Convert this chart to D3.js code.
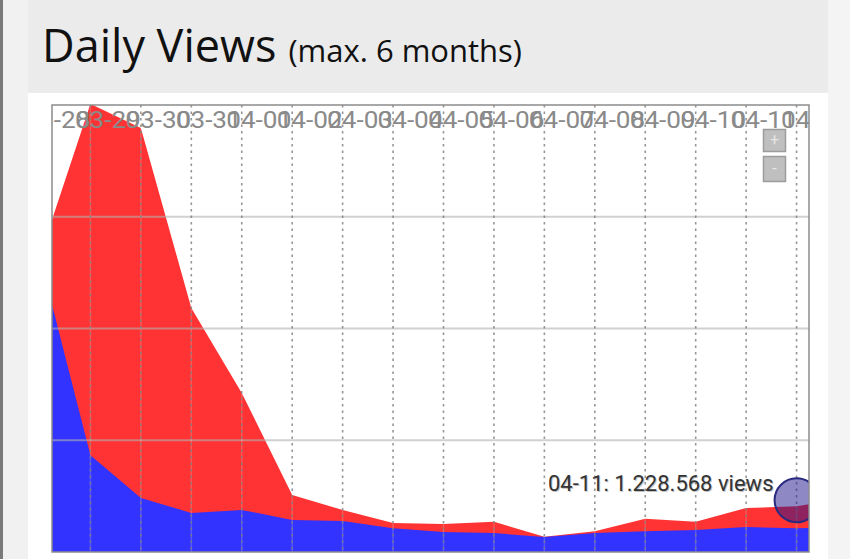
<!DOCTYPE html>
<html><head><meta charset="utf-8">
<script src="https://cdn.jsdelivr.net/npm/d3@7"></script>
<style>
html,body{margin:0;padding:0;background:#f1f1f1;}
svg{display:block;}
</style></head>
<body>
<svg id="chart" width="850" height="559"></svg>
<script>
// ---- data ----
const dates = ["03-27","03-28","03-29","03-30","03-31","04-01","04-02","04-03","04-04","04-05","04-06","04-07","04-08","04-09","04-10","04-11","04-12"];
const blueViews = [7900000, 2600000, 1450000, 1050000, 1130000, 860000, 830000, 640000, 540000, 510000, 400000, 510000, 560000, 590000, 670000, 640000, 650000];
const redViews  = [50000, 9430000, 9930000, 5500000, 3140000, 670000, 300000, 140000, 210000, 300000, 10000, 50000, 330000, 220000, 510000, 588568, 800000];
const yTicks = [3000000, 6000000, 9000000];
const hoverIndex = 15;
const hoverText = "04-11: 1.228.568 views";
const title = "Daily Views";
const subtitle = "(max. 6 months)";

const svg = d3.select("#chart");
// page background pieces
svg.append("rect").attr("x",0).attr("y",0).attr("width",850).attr("height",559).attr("fill","#f1f1f1");
svg.append("rect").attr("x",0).attr("y",0).attr("width",3).attr("height",559).attr("fill","#7a7a7a");
svg.append("rect").attr("x",28).attr("y",0).attr("width",800).attr("height",559).attr("fill","#ffffff");
svg.append("rect").attr("x",28).attr("y",0).attr("width",800).attr("height",93).attr("fill","#ebebeb");
svg.append("rect").attr("x",828).attr("y",0).attr("width",22).attr("height",559).attr("fill","#f4f4f4");

// title
const t = svg.append("text").attr("x",42).attr("y",62).attr("fill","#111")
  .style("font-family","'Open Sans', sans-serif");
t.append("tspan").attr("font-size",45).text(title);
t.append("tspan").attr("font-size",31).attr("dx",12).text(subtitle);

// plot
const P = {x:52, y:105, w:757, h:447};
const g = svg.append("g").attr("transform",`translate(${P.x},${P.y})`);
g.append("defs").append("clipPath").attr("id","clip")
  .append("rect").attr("x",0).attr("y",0).attr("width",P.w).attr("height",P.h);

const x = d3.scaleLinear().domain([0, dates.length-1]).range([-12, 795]);
const y = d3.scaleLinear().domain([0, 12000000]).range([P.h, 0]);

const rows = dates.map((d,i)=>({date:d, blue:blueViews[i], red:redViews[i]}));
const stack = d3.stack().keys(["blue","red"])(rows);
const colors = {blue:"#3333ff", red:"#ff3333"};

const plot = g.append("g").attr("clip-path","url(#clip)");
plot.append("rect").attr("width",P.w).attr("height",P.h).attr("fill","#fff");

const area = d3.area().x((d,i)=>x(i)).y0(d=>y(d[0])).y1(d=>y(d[1]));
plot.selectAll("path.area").data(stack.slice().reverse()).join("path")
  .attr("class","area")
  .attr("fill",d=>colors[d.key])
  .attr("d",d=>{
    if(d.key==="red") return d3.area().x((p,i)=>x(i)).y0(y(0)).y1(p=>y(p[1]))(d);
    return area(d);
  });

// horizontal gridlines
plot.selectAll("line.h").data(yTicks).join("line")
  .attr("x1",0).attr("x2",P.w).attr("y1",d=>y(d)).attr("y2",d=>y(d))
  .attr("stroke","#b0b0b0").attr("stroke-opacity",0.6).attr("stroke-width",2);

// vertical gridlines
const vIdx = d3.range(1, dates.length);
plot.selectAll("line.vs").data(vIdx).join("line")
  .attr("x1",d=>x(d)).attr("x2",d=>x(d)).attr("y1",0).attr("y2",P.h)
  .attr("stroke","#ffffff").attr("stroke-opacity",0.18).attr("stroke-width",1.5);
plot.selectAll("line.v").data(vIdx).join("line")
  .attr("x1",d=>x(d)).attr("x2",d=>x(d)).attr("y1",0).attr("y2",P.h)
  .attr("stroke","#7c7c7c").attr("stroke-opacity",0.8).attr("stroke-width",1.6)
  .attr("stroke-dasharray","2.5,4");

// x tick labels (right anchored at each day line, overlapping as in the original)
plot.selectAll("text.tick").data(dates).join("text")
  .attr("x",(d,i)=>x(i)).attr("y",23)
  .attr("text-anchor","end")
  .attr("textLength",66).attr("lengthAdjust","spacingAndGlyphs")
  .attr("fill","#8a8a8a")
  .style("font-family","Roboto, sans-serif").style("font-size","24px")
  .text(d=>d);

// zoom buttons
const btn = g.append("g");
[["+",24,22],["-",51,25]].forEach(([s,yy,hh])=>{
  btn.append("rect").attr("x",711.5).attr("y",yy+0.5).attr("width",22).attr("height",hh)
    .attr("fill","#bfbfbf").attr("stroke","#9c9c9c").attr("stroke-width",1.5);
  btn.append("text").attr("x",722.5).attr("y",yy+hh/2+5).attr("text-anchor","middle")
    .attr("fill","#e6e6e6").style("font-family","Roboto, sans-serif").style("font-size","16px").text(s);
});

// hover
const hv = blueViews[hoverIndex] + redViews[hoverIndex];
plot.append("circle").attr("cx",x(hoverIndex)).attr("cy",y(hv)-6).attr("r",22)
  .attr("fill","rgb(30,20,140)").attr("fill-opacity",0.5)
  .attr("stroke","#2a2a80").attr("stroke-width",2);
plot.append("text").attr("x",497).attr("y",387)
  .attr("fill","#9a9a9a").attr("fill-opacity",0.6)
  .style("font-family","Roboto, sans-serif").style("font-size","22px")
  .text(hoverText);
plot.append("text").attr("x",496).attr("y",386)
  .attr("fill","#333")
  .style("font-family","Roboto, sans-serif").style("font-size","22px")
  .text(hoverText);

// plot border
g.append("rect").attr("x",0).attr("y",0).attr("width",P.w).attr("height",P.h)
  .attr("fill","none").attr("stroke","#8c8c8c").attr("stroke-width",1.5);
</script>
</body></html>
